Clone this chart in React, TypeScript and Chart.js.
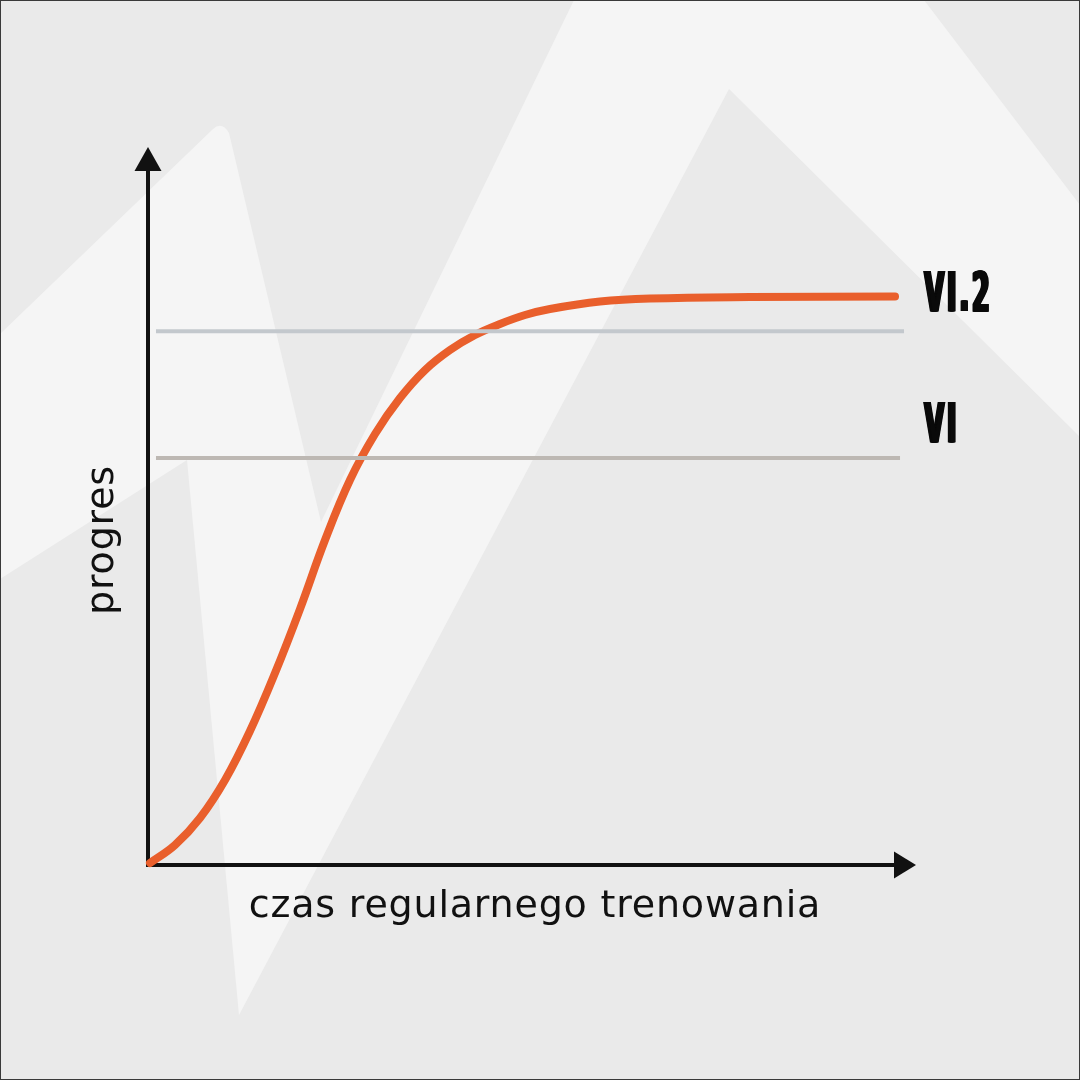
import React, { useEffect, useRef } from "react";
import { Chart, registerables } from "chart.js";

Chart.register(...registerables);

// ---- data ----
const curveX = [0.26, 3.52, 6.77, 10.03, 13.28, 16.54, 19.79, 23.05, 26.3, 29.56, 32.81, 36.07, 39.32, 42.58, 45.83, 49.09, 52.34, 58.85, 65.36, 78.39, 97.27];
const curveY = [0.28, 2.79, 6.55, 11.84, 18.66, 26.74, 35.65, 45.26, 53.62, 60.03, 65.04, 68.94, 71.73, 73.82, 75.35, 76.6, 77.44, 78.48, 78.9, 79.11, 79.18];

const levelNames = ["VI.2", "VI"];
const levelValues = [74.34, 56.69];
const levelStart = [1.04, 1.04];
const levelEnd = [98.44, 97.92];
const levelColors = ["#c3c8cd", "#bdb8b3"];
const labelValues = [79.1, 60.9];
const labelX = 100.9;

const xTitle = "czas regularnego trenowania";
const yTitle = "progres";

const X_MAX = 100;
const Y_MAX = 100;

// background decoration (light zigzag band)
const bandShape: [number, number][] = [
  [0, 334], [213, 129], [-1, -1], [321, 522], [574, 0], [924, 0], [1080, 205],
  [1080, 437], [729, 89], [239, 1015], [187, 460], [0, 579],
];

const bgPlugin = {
  id: "bgPlugin",
  beforeDraw(chart: any) {
    const { ctx, width, height } = chart;
    ctx.save();
    ctx.fillStyle = "#eaeaea";
    ctx.fillRect(0, 0, width, height);
    ctx.fillStyle = "#f5f5f5";
    ctx.beginPath();
    bandShape.forEach(([x, y], i) => {
      if (x < 0) {
        ctx.quadraticCurveTo(222, 121, 229, 133);
      } else if (i === 0) ctx.moveTo(x, y);
      else ctx.lineTo(x, y);
    });
    ctx.closePath();
    ctx.fill();
    ctx.strokeStyle = "#3a3a3a";
    ctx.lineWidth = 2;
    ctx.strokeRect(0, 0, width, height);
    ctx.restore();
  },
};

const axesPlugin = {
  id: "axesPlugin",
  beforeDatasetsDraw(chart: any) {
    const { ctx } = chart;
    const xs = chart.scales.x;
    const ys = chart.scales.y;
    const x0 = xs.getPixelForValue(0);
    const y0 = ys.getPixelForValue(0);
    const xTip = xs.getPixelForValue(X_MAX);
    const yTip = ys.getPixelForValue(Y_MAX);
    ctx.save();
    ctx.strokeStyle = "#111";
    ctx.fillStyle = "#111";
    ctx.lineWidth = 4;
    ctx.lineCap = "butt";
    ctx.beginPath();
    ctx.moveTo(x0, y0 + 2);
    ctx.lineTo(x0, yTip + 22);
    ctx.stroke();
    ctx.beginPath();
    ctx.moveTo(x0 - 2, y0);
    ctx.lineTo(xTip - 20, y0);
    ctx.stroke();
    // arrows
    ctx.beginPath();
    ctx.moveTo(x0, yTip);
    ctx.lineTo(x0 + 13.5, yTip + 24);
    ctx.lineTo(x0 - 13.5, yTip + 24);
    ctx.closePath();
    ctx.fill();
    ctx.beginPath();
    ctx.moveTo(xTip, y0);
    ctx.lineTo(xTip - 22, y0 - 13.5);
    ctx.lineTo(xTip - 22, y0 + 13.5);
    ctx.closePath();
    ctx.fill();
    ctx.restore();
  },
};

function drawCondensed(ctx: any, text: string, x: number, baseline: number, sx: number, smear: number, gap: number) {
  let cx = x;
  for (const ch of text) {
    for (let d = 0; d <= smear; d += 0.5) {
      ctx.save();
      ctx.translate(cx + d, baseline);
      ctx.scale(sx, 1);
      ctx.fillText(ch, 0, 0);
      ctx.restore();
    }
    cx += ctx.measureText(ch).width * sx + smear + gap;
  }
}

const textPlugin = {
  id: "textPlugin",
  afterDatasetsDraw(chart: any) {
    const { ctx, chartArea } = chart;
    const xs = chart.scales.x;
    const ys = chart.scales.y;
    ctx.save();
    ctx.fillStyle = "#111";
    ctx.font = '38px "DejaVu Sans"';
    try { ctx.letterSpacing = "0.8px"; } catch (e) {}
    ctx.textAlign = "center";
    ctx.textBaseline = "alphabetic";
    ctx.fillText(xTitle, (chartArea.left + chartArea.right) / 2 + 3, chartArea.bottom + 52);
    ctx.save();
    ctx.translate(chartArea.left - 35, (chartArea.top + chartArea.bottom) / 2 + 34);
    ctx.rotate(-Math.PI / 2);
    ctx.fillText(yTitle, 0, 0);
    ctx.restore();
    try { ctx.letterSpacing = "0px"; } catch (e) {}

    ctx.fillStyle = "#0a0a0a";
    ctx.font = 'bold 55px "DejaVu Sans"';
    ctx.textAlign = "left";
    ctx.textBaseline = "middle";
    levelNames.forEach((name, i) => {
      const px = xs.getPixelForValue(labelX);
      const py = ys.getPixelForValue(labelValues[i]);
      drawCondensed(ctx, name, px, py, 0.46, 3, 0);
    });
    ctx.restore();
  },
};

export default function App() {
  const ref = useRef<HTMLCanvasElement | null>(null);
  useEffect(() => {
    if (!ref.current) return;
    const datasets: any[] = [
      {
        data: curveX.map((x, i) => ({ x, y: curveY[i] })),
        borderColor: "#e95f2c",
        borderWidth: 8,
        borderCapStyle: "round",
        borderJoinStyle: "round",
        tension: 0.4,
        pointRadius: 0,
        fill: false,
        clip: false,
        order: 2,
      },
      ...levelNames.map((_, i) => ({
        data: [
          { x: levelStart[i], y: levelValues[i] },
          { x: levelEnd[i], y: levelValues[i] },
        ],
        borderColor: levelColors[i],
        borderWidth: 4,
        borderCapStyle: "butt",
        pointRadius: 0,
        fill: false,
        clip: false,
        order: 1,
      })),
    ];
    const chart = new Chart(ref.current, {
      type: "line",
      data: { datasets },
      options: {
        animation: false,
        responsive: false,
        devicePixelRatio: 1,
        layout: { padding: { left: 148, right: 164, top: 147, bottom: 215 } },
        plugins: { legend: { display: false }, tooltip: { enabled: false } },
        events: [],
        scales: {
          x: { type: "linear", min: 0, max: X_MAX, display: false },
          y: { type: "linear", min: 0, max: Y_MAX, display: false },
        },
      },
      plugins: [bgPlugin, axesPlugin, textPlugin],
    } as any);
    return () => chart.destroy();
  }, []);
  return (
    <div style={{ position: "fixed", left: 0, top: 0, width: 1080, height: 1080 }}>
      <canvas ref={ref} width={1080} height={1080} style={{ display: "block" }} />
    </div>
  );
}
